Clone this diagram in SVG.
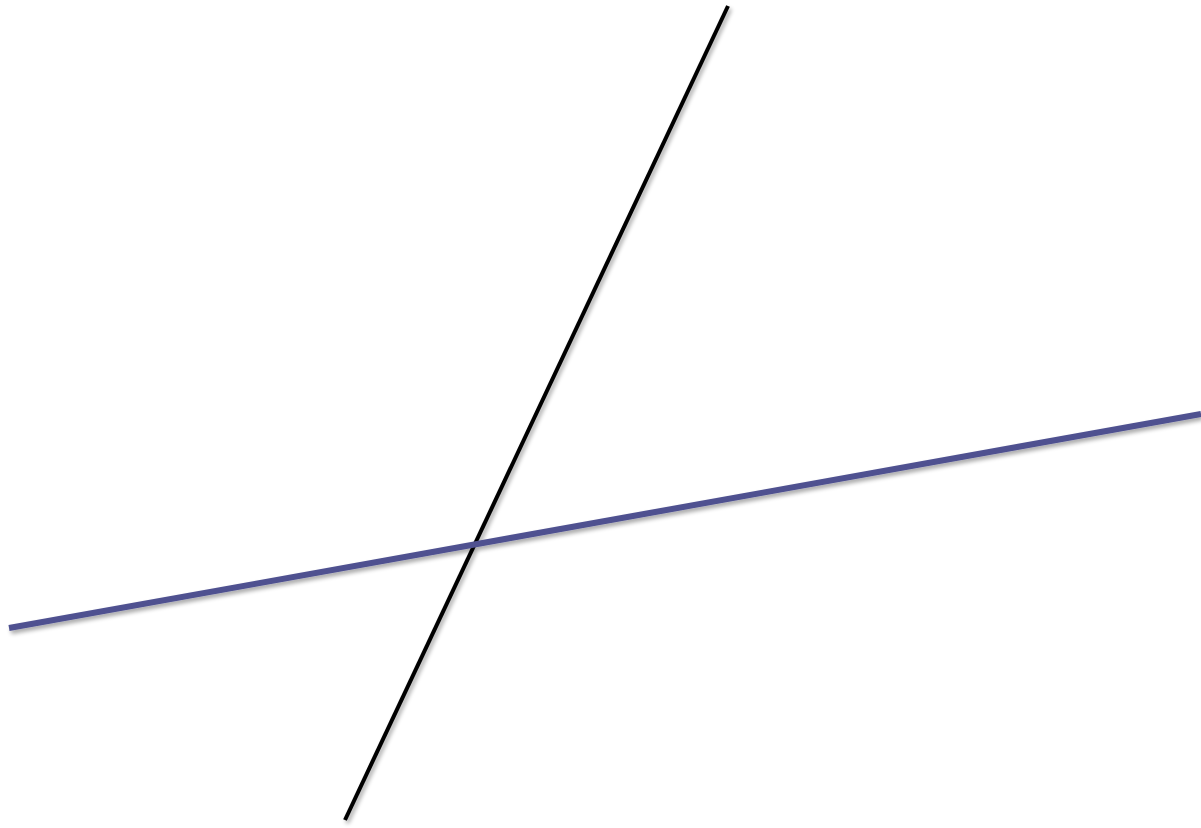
<svg xmlns="http://www.w3.org/2000/svg" width="1201" height="828" viewBox="0 0 1201 828">
<defs>
<filter id="sh" x="-10%" y="-10%" width="120%" height="120%">
<feGaussianBlur in="SourceAlpha" stdDeviation="2"/>
<feOffset dx="2" dy="3" result="b"/>
<feComponentTransfer><feFuncA type="linear" slope="0.35"/></feComponentTransfer>
<feMerge><feMergeNode/><feMergeNode in="SourceGraphic"/></feMerge>
</filter>
<style>
.blk{stroke:#000;stroke-width:4;fill:none}
.blu{stroke:#4F5190;stroke-width:6;fill:none}
</style>
</defs>
<rect width="1201" height="828" fill="#fff"/>
<g id="connectors" filter="url(#sh)">
<line id="black-line" class="blk" x1="728" y1="6" x2="345" y2="820"/>
<line id="blue-line" class="blu" x1="9" y1="628" x2="1201" y2="414"/>
</g>
</svg>
